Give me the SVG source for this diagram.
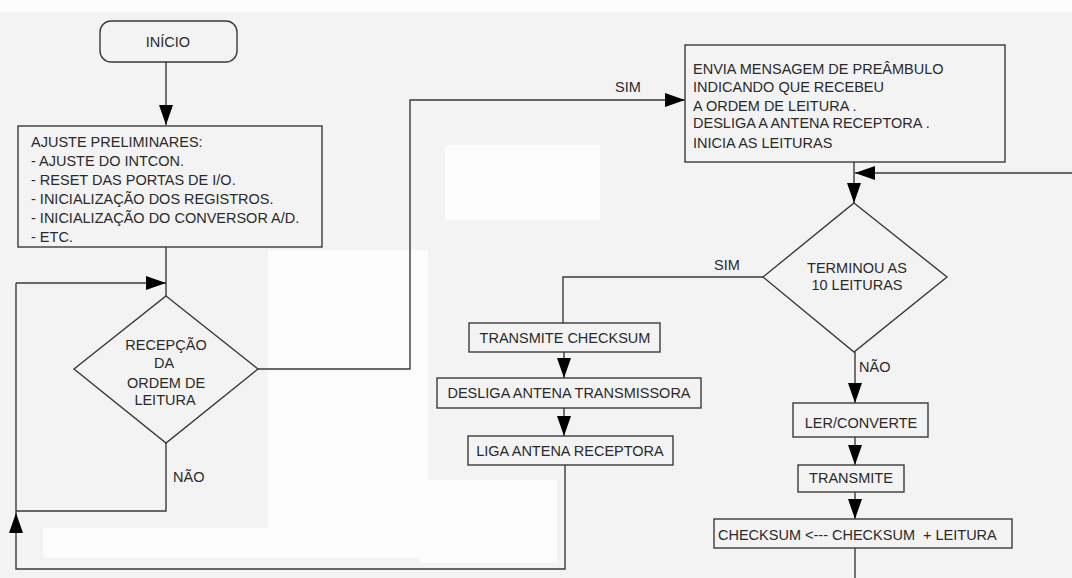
<svg xmlns="http://www.w3.org/2000/svg" width="1072" height="578" viewBox="0 0 1072 578">
<defs>
<style>
.bg{fill:#f3f3f3}
.wp{fill:#fcfcfc}
.box{fill:none;stroke:#3a3a3a;stroke-width:1.4}
.ln{fill:none;stroke:#3a3a3a;stroke-width:1.4}
text{font-family:"Liberation Sans",Arial,sans-serif;font-size:14.5px;fill:#2a2a2a}
.c{text-anchor:middle}
</style>
<marker id="ah" markerUnits="userSpaceOnUse" markerWidth="20" markerHeight="14" viewBox="0 0 20 14" refX="20" refY="7" orient="auto">
<path d="M0,0 L20,7 L0,14 Z" fill="#000"/>
</marker>
</defs>
<rect class="bg" x="0" y="0" width="1072" height="578"/>
<rect class="wp" x="0" y="0" width="1072" height="12"/>
<rect class="wp" x="445" y="145" width="155" height="75"/>
<rect class="wp" x="268" y="250" width="160" height="278"/>
<rect class="wp" x="43" y="528" width="385" height="30"/>
<rect class="wp" x="420" y="480" width="137" height="83"/>

<g id="connectors">
<path class="ln" d="M166,62 V125" marker-end="url(#ah)"/>
<path class="ln" d="M166,247 V296"/>
<path class="ln" d="M16,283 H166" marker-end="url(#ah)"/>
<path class="ln" d="M166,443 V511 H16"/>
<path class="ln" d="M565,465 V569 H16 V513" marker-end="url(#ah)"/>
<path class="ln" d="M16,515 V283"/>
<path class="ln" d="M258,369 H410 V100 H685" marker-end="url(#ah)"/>
<path class="ln" d="M854,162 V203" marker-end="url(#ah)"/>
<path class="ln" d="M1072,173 H855" marker-end="url(#ah)"/>
<path class="ln" d="M763,277 H563 V323"/>
<path class="ln" d="M564,352 V378" marker-end="url(#ah)"/>
<path class="ln" d="M564,408 V436" marker-end="url(#ah)"/>
<path class="ln" d="M855,352 V403" marker-end="url(#ah)"/>
<path class="ln" d="M855,437 V465" marker-end="url(#ah)"/>
<path class="ln" d="M855,492 V519" marker-end="url(#ah)"/>
<path class="ln" d="M855,548 V578"/>
<text x="615" y="92">SIM</text>
<text x="173" y="482">NÃO</text>
<text x="714" y="270">SIM</text>
<text x="859" y="372">NÃO</text>
</g>

<g id="inicio">
<rect class="box" x="100" y="21" width="137" height="41" rx="11"/>
<text class="c" x="168" y="47">INÍCIO</text>
</g>

<g id="ajuste">
<rect class="box" x="18" y="126" width="304" height="121"/>
<text x="31" y="147">AJUSTE PRELIMINARES:</text>
<text x="31" y="166">- AJUSTE DO INTCON.</text>
<text x="31" y="185">- RESET DAS PORTAS DE I/O.</text>
<text x="31" y="204">- INICIALIZAÇÃO DOS REGISTROS.</text>
<text x="31" y="223">- INICIALIZAÇÃO DO CONVERSOR A/D.</text>
<text x="31" y="242">- ETC.</text>
</g>

<g id="recepcao">
<polygon class="box" points="166,296 258,369 166,443 74,369"/>
<text class="c" x="166" y="350">RECEPÇÃO</text>
<text class="c" x="164" y="368">DA</text>
<text class="c" x="166" y="388">ORDEM DE</text>
<text class="c" x="165" y="405">LEITURA</text>
</g>

<g id="envia">
<rect class="box" x="685" y="45" width="320" height="117"/>
<text x="693" y="74">ENVIA MENSAGEM DE PREÂMBULO</text>
<text x="693" y="92">INDICANDO QUE RECEBEU</text>
<text x="693" y="111">A ORDEM DE LEITURA .</text>
<text x="693" y="128">DESLIGA A ANTENA RECEPTORA .</text>
<text x="693" y="148">INICIA AS LEITURAS</text>
</g>

<g id="terminou">
<polygon class="box" points="854,203 947,277 854,352 763,277"/>
<text class="c" x="857" y="273">TERMINOU AS</text>
<text class="c" x="857" y="290">10 LEITURAS</text>
</g>

<g id="transmite-checksum">
<rect class="box" x="469" y="323" width="191" height="29"/>
<text class="c" x="565" y="343">TRANSMITE CHECKSUM</text>
</g>

<g id="desliga">
<rect class="box" x="437" y="378" width="264" height="30"/>
<text class="c" x="569" y="398">DESLIGA ANTENA TRANSMISSORA</text>
</g>

<g id="liga">
<rect class="box" x="468" y="436" width="205" height="29"/>
<text class="c" x="570" y="456">LIGA ANTENA RECEPTORA</text>
</g>

<g id="ler">
<rect class="box" x="793" y="403" width="135" height="34"/>
<text class="c" x="861" y="428">LER/CONVERTE</text>
</g>

<g id="transmite">
<rect class="box" x="798" y="465" width="106" height="27"/>
<text class="c" x="851" y="483">TRANSMITE</text>
</g>

<g id="checksum">
<rect class="box" x="714" y="519" width="298" height="29"/>
<text x="718" y="540">CHECKSUM &lt;--- CHECKSUM &#160;+ LEITURA</text>
</g>
</svg>
